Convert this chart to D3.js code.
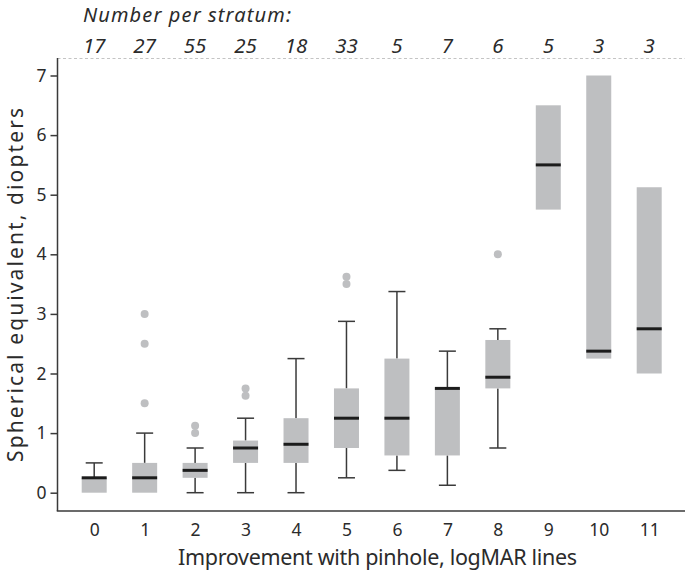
<!DOCTYPE html>
<html>
<head>
<meta charset="utf-8">
<script src="https://cdn.jsdelivr.net/npm/d3@7/dist/d3.min.js"></script>
<style>
  html, body { margin: 0; padding: 0; background: #fff; }
  svg { display: block; font-family: "Noto Sans", Lato, sans-serif; }
</style>
</head>
<body>
<svg id="chart" width="685" height="576"></svg>
<script>
// ---- data ----
const categories = [0, 1, 2, 3, 4, 5, 6, 7, 8, 9, 10, 11];
const counts     = [17, 27, 55, 25, 18, 33, 5, 7, 6, 5, 3, 3];
const q1         = [0, 0, 0.25, 0.5, 0.5, 0.75, 0.625, 0.625, 1.75, 4.75, 2.25, 2.0];
const medians    = [0.25, 0.25, 0.375, 0.75, 0.8125, 1.25, 1.25, 1.75, 1.9375, 5.5, 2.375, 2.75];
const q3         = [0.25, 0.5, 0.5, 0.875, 1.25, 1.75, 2.25, 1.75, 2.5625, 6.5, 7.0, 5.125];
const whiskerLow  = [null, null, 0, 0, 0, 0.25, 0.375, 0.125, 0.75, null, null, null];
const whiskerHigh = [0.5, 1.0, 0.75, 1.25, 2.25, 2.875, 3.375, 2.375, 2.75, null, null, null];
const outliers = [
  [], [1.5, 2.5, 3.0], [1.0, 1.125], [1.625, 1.75], [], [3.5, 3.625],
  [], [], [4.0], [], [], []
];
const yTicks = [0, 1, 2, 3, 4, 5, 6, 7];
const titleText = "Number per stratum:";
const xLabel = "Improvement with pinhole, logMAR lines";
const yLabel = "Spherical equivalent, diopters";

// ---- layout ----
const svg = d3.select("#chart");
const axisLeftX = 57.5, axisBottomY = 511, plotTop = 58, plotRight = 685;
const boxW = 25, capW = 17;

const x = d3.scalePoint().domain(categories).range([94.2, 649.2]);
const y = d3.scaleLinear().domain([0, 7]).range([492.7, 75.5]);

const axisColor = "#3a3a3a";
const textColor = "#2b2b2b";
const boxFill = "#bebfc1";

// dashed top line
svg.append("line")
  .attr("x1", axisLeftX).attr("x2", plotRight)
  .attr("y1", plotTop + 0.5).attr("y2", plotTop + 0.5)
  .attr("stroke", "#c4c4c4").attr("stroke-width", 1)
  .attr("stroke-dasharray", "3,2.5");

// axes lines
svg.append("line")
  .attr("x1", axisLeftX).attr("x2", axisLeftX)
  .attr("y1", plotTop).attr("y2", axisBottomY)
  .attr("stroke", axisColor).attr("stroke-width", 1.5);
svg.append("line")
  .attr("x1", axisLeftX - 0.75).attr("x2", plotRight)
  .attr("y1", axisBottomY).attr("y2", axisBottomY)
  .attr("stroke", axisColor).attr("stroke-width", 1.5);

// y axis
const yAxis = svg.append("g")
  .attr("transform", `translate(${axisLeftX},0)`)
  .call(d3.axisLeft(y).tickValues(yTicks).tickSize(7).tickSizeOuter(0).tickPadding(4).tickFormat(d3.format("d")));
yAxis.select(".domain").remove();
yAxis.selectAll(".tick line").attr("stroke", axisColor).attr("stroke-width", 1.5);
yAxis.selectAll(".tick text").attr("fill", textColor).style("font-size", "17.5px").style("font-family", "'Noto Sans', sans-serif");

// x axis
const xAxis = svg.append("g")
  .attr("transform", `translate(0,${axisBottomY})`)
  .call(d3.axisBottom(x).tickSize(0).tickPadding(13));
xAxis.select(".domain").remove();
xAxis.selectAll(".tick text").attr("fill", textColor).style("font-size", "17.5px").style("font-family", "'Noto Sans', sans-serif");

// data rows
const rows = categories.map((c, i) => ({
  c, n: counts[i], q1: q1[i], med: medians[i], q3: q3[i],
  lo: whiskerLow[i], hi: whiskerHigh[i], out: outliers[i]
}));

const g = svg.append("g");

// whiskers
rows.forEach(d => {
  const cx = x(d.c);
  if (d.hi != null) {
    g.append("line").attr("x1", cx).attr("x2", cx).attr("y1", y(d.q3)).attr("y2", y(d.hi))
      .attr("stroke", axisColor).attr("stroke-width", 1.5);
    g.append("line").attr("x1", cx - capW / 2).attr("x2", cx + capW / 2).attr("y1", y(d.hi)).attr("y2", y(d.hi))
      .attr("stroke", axisColor).attr("stroke-width", 1.5);
  }
  if (d.lo != null) {
    g.append("line").attr("x1", cx).attr("x2", cx).attr("y1", y(d.q1)).attr("y2", y(d.lo))
      .attr("stroke", axisColor).attr("stroke-width", 1.5);
    g.append("line").attr("x1", cx - capW / 2).attr("x2", cx + capW / 2).attr("y1", y(d.lo)).attr("y2", y(d.lo))
      .attr("stroke", axisColor).attr("stroke-width", 1.5);
  }
});

// boxes
g.selectAll("rect.box").data(rows).join("rect")
  .attr("class", "box")
  .attr("x", d => x(d.c) - boxW / 2)
  .attr("width", boxW)
  .attr("y", d => y(d.q3))
  .attr("height", d => y(d.q1) - y(d.q3))
  .attr("fill", boxFill);

// medians
g.selectAll("line.med").data(rows).join("line")
  .attr("class", "med")
  .attr("x1", d => x(d.c) - boxW / 2)
  .attr("x2", d => x(d.c) + boxW / 2)
  .attr("y1", d => y(d.med)).attr("y2", d => y(d.med))
  .attr("stroke", "#1c1c1c").attr("stroke-width", 3);

// outliers
rows.forEach(d => {
  g.selectAll(null).data(d.out).join("circle")
    .attr("cx", x(d.c)).attr("cy", v => y(v)).attr("r", 4)
    .attr("fill", boxFill);
});

// top annotations
svg.append("text")
  .attr("x", 83).attr("y", 21.5)
  .style("font-size", "20px").style("font-style", "italic")
  .attr("textLength", 208).attr("lengthAdjust", "spacing")
  .attr("fill", textColor)
  .text(titleText);

svg.selectAll("text.count").data(rows).join("text")
  .attr("class", "count")
  .attr("x", d => x(d.c)).attr("y", 52.7)
  .attr("text-anchor", "middle")
  .style("font-size", "20.5px").style("font-style", "italic")
  .attr("fill", textColor)
  .text(d => d.n);

// axis titles
svg.append("text")
  .attr("x", 377.5).attr("y", 565)
  .attr("text-anchor", "middle")
  .style("font-size", "21.5px")
  .attr("textLength", 399).attr("lengthAdjust", "spacing")
  .attr("fill", textColor)
  .text(xLabel);

svg.append("text")
  .attr("transform", "translate(22.5,285) rotate(-90)")
  .attr("text-anchor", "middle")
  .style("font-size", "21px")
  .attr("textLength", 354).attr("lengthAdjust", "spacing")
  .attr("fill", textColor)
  .text(yLabel);
</script>
</body>
</html>
